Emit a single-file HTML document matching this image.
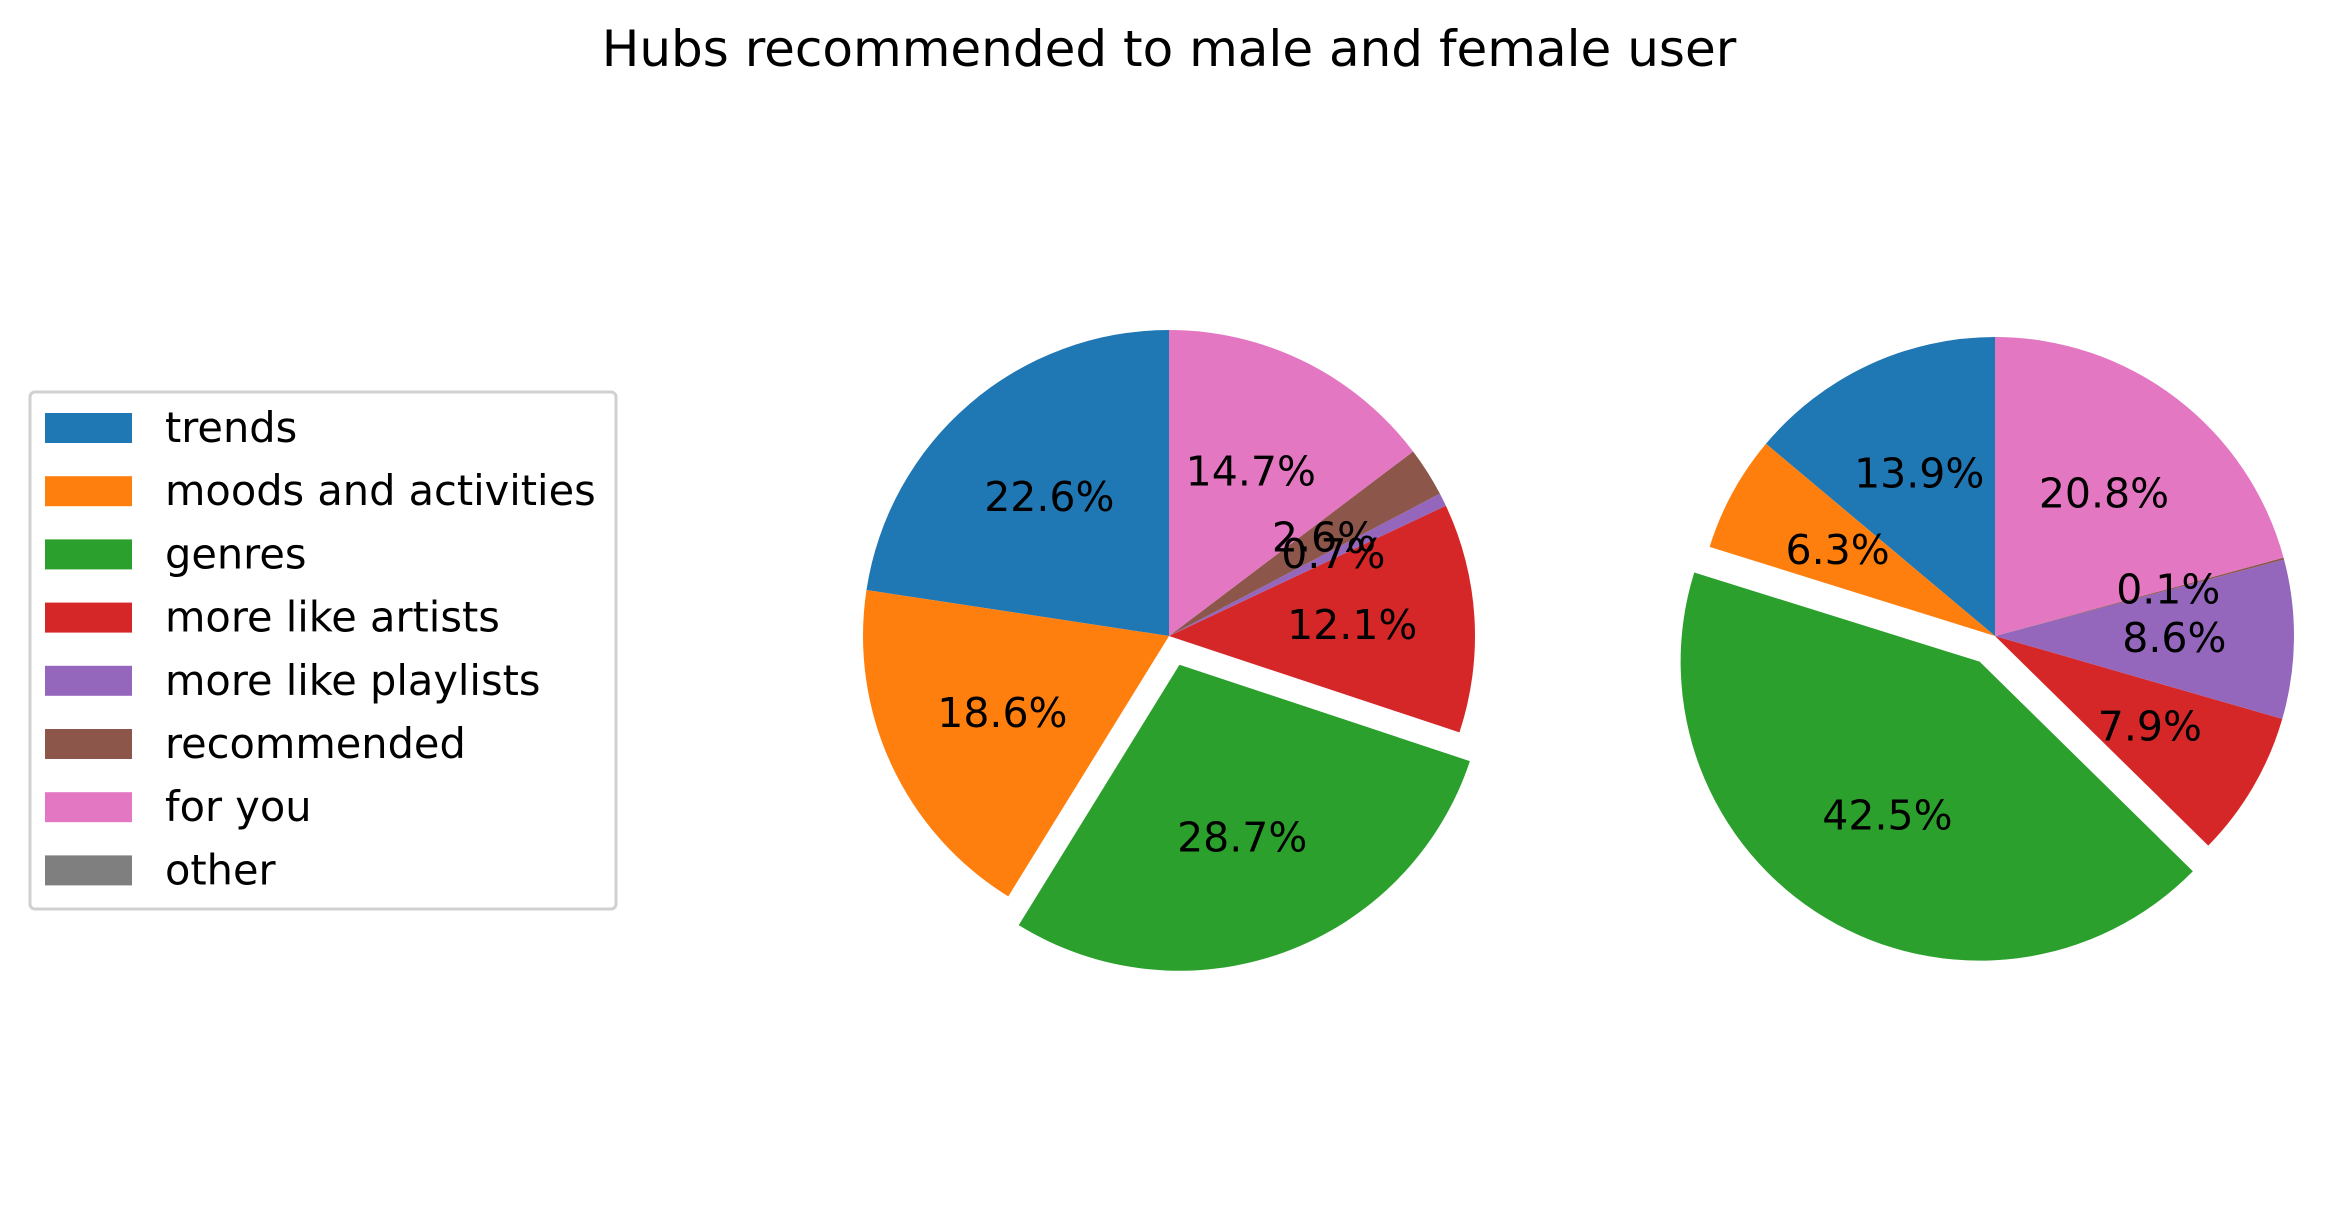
<!DOCTYPE html>
<html><head><meta charset="utf-8"><style>
html,body{margin:0;padding:0;background:#fff;}
svg{display:block;font-family:"DejaVu Sans","Liberation Sans",sans-serif;}
</style></head><body>
<svg id="chart" width="2338" height="1231" viewBox="0 0 2338 1231" xmlns="http://www.w3.org/2000/svg">
<text x="1169" y="66" font-size="50" text-anchor="middle">Hubs recommended to male and female user</text>
<g id="pies"></g>
<g>
<rect x="30" y="392" width="586" height="517" rx="5" fill="#fff" stroke="#d0d0d0" stroke-width="3"/>
<g id="legend"></g>
</g>
</svg>
<script>
const categories = ["trends","moods and activities","genres","more like artists","more like playlists","recommended","for you","other"];
const colors = ["#1f77b4","#ff7f0e","#2ca02c","#d62728","#9467bd","#8c564b","#e377c2","#7f7f7f"];
const maleValues = [22.6,18.6,28.7,12.1,0.7,2.6,14.7,0];
const femaleValues = [13.9,6.3,42.5,7.9,8.6,0.1,20.8,0];
const explode = [0,0,0.1,0,0,0,0,0];
const NS = "http://www.w3.org/2000/svg";
const pies = document.getElementById("pies");
function drawPie(values, cx, cy, r, name){
  const g = document.createElementNS(NS,"g");
  
  
  pies.appendChild(g);
  const total = values.reduce((a,b)=>a+b,0);
  let a = 90;
  values.forEach((v,i)=>{
    if (v<=0) return;
    const sweep = v/total*360;
    const mid = (a + sweep/2)*Math.PI/180;
    const ox = cx + explode[i]*r*Math.cos(mid), oy = cy - explode[i]*r*Math.sin(mid);
    const a0 = a*Math.PI/180, a1 = (a+sweep)*Math.PI/180;
    const x0 = ox + r*Math.cos(a0), y0 = oy - r*Math.sin(a0);
    const x1 = ox + r*Math.cos(a1), y1 = oy - r*Math.sin(a1);
    const p = document.createElementNS(NS,"path");
    p.setAttribute("d", `M${ox},${oy} L${x0},${y0} A${r},${r} 0 ${sweep>180?1:0} 0 ${x1},${y1} Z`);
    p.setAttribute("fill", colors[i]);
    
    
    g.appendChild(p);
    a += sweep;
  });
  a = 90;
  values.forEach((v,i)=>{
    if (v<=0) return;
    const sweep = v/total*360;
    const mid = (a + sweep/2)*Math.PI/180;
    const ox = cx + explode[i]*r*Math.cos(mid), oy = cy - explode[i]*r*Math.sin(mid);
    const t = document.createElementNS(NS,"text");
    t.setAttribute("x", ox + 0.6*r*Math.cos(mid));
    t.setAttribute("y", oy - 0.6*r*Math.sin(mid) + 14);
    t.setAttribute("font-size","41");
    t.setAttribute("text-anchor","middle");
    t.textContent = v.toFixed(1) + "%";
    
    
    g.appendChild(t);
    a += sweep;
  });
}
drawPie(maleValues, 1169, 636, 306, "male-pie");
drawPie(femaleValues, 1995, 636, 299, "female-pie");
const lg = document.getElementById("legend");
categories.forEach((c,i)=>{
  const y = 428 + i*63.2;
  const r = document.createElementNS(NS,"rect");
  r.setAttribute("x",45); r.setAttribute("y",y-15); r.setAttribute("width",87); r.setAttribute("height",30);
  r.setAttribute("fill",colors[i]);
  
  
  lg.appendChild(r);
  const t = document.createElementNS(NS,"text");
  t.setAttribute("x",165); t.setAttribute("y",y+14); t.setAttribute("font-size","41.5");
  t.textContent = c;
  
  
  lg.appendChild(t);
});
</script>
</body></html>
